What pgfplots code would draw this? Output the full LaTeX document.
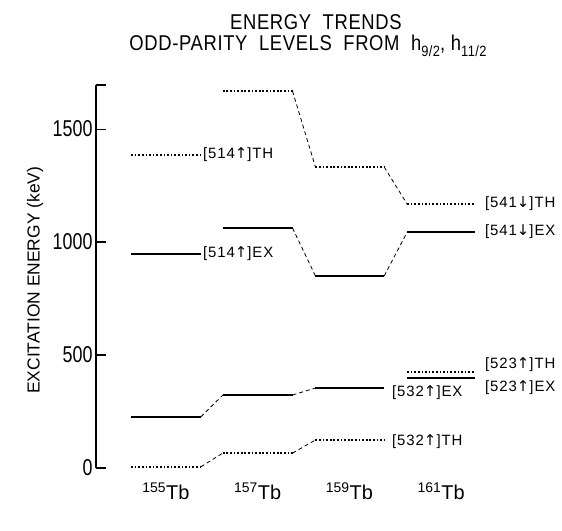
\documentclass[border=0pt]{standalone}
\usepackage{fontspec}
\setmainfont{Liberation Sans}
\newfontfamily\narrow{Liberation Sans}[FakeStretch=0.78]
\newfontfamily\ttl{Liberation Sans}[FakeStretch=0.86, LetterSpace=3]
\newfontfamily\lbl{Liberation Sans}[LetterSpace=6]
\newfontfamily\dv{DejaVu Sans}
\usepackage{pgfplots}
\pgfplotsset{compat=1.18}
\newcommand{\up}{{\dv\char"2191}}
\newcommand{\dn}{{\dv\char"2193}}
\begin{document}
\begin{tikzpicture}
\path[use as bounding box] (0,0) rectangle (562bp,531bp);
\begin{axis}[
  at={(96bp,63bp)}, anchor=south west,
  scale only axis, width=464bp, height=383bp,
  xmin=0.237, xmax=5.297, ymin=0, ymax=1695,
  clip=false,
  axis y line*=left, axis x line*=bottom,
  x axis line style={draw=none},
  y axis line style={line width=1.1bp},
  xtick={1,2,3,4},
  xticklabels={{\textsuperscript{155}Tb},{\textsuperscript{157}Tb},{\textsuperscript{159}Tb},{\textsuperscript{161}Tb}},
  x tick style={draw=none},
  xticklabel style={font=\fontsize{20}{23}\selectfont, yshift=-11bp},
  ytick={0,500,1000,1500},
  extra y ticks={1695}, extra y tick labels={},
  extra y tick style={tick align=inside, major tick length=10bp},
  tick align=inside, major tick length=10bp,
  y tick style={line width=1.1bp, black},
  yticklabel style={font=\narrow\fontsize{23}{26}\selectfont},
  /pgf/number format/assume math mode=true,
  /pgf/number format/1000 sep={},
  ylabel={EXCITATION ENERGY (keV)},
  ylabel style={at={(axis description cs:-0.131,0.49)}, anchor=center, font=\fontsize{17.5}{20}\selectfont},
  unbounded coords=jump,
]
% solid EX levels
\addplot[black, line width=1.3bp] coordinates {
 (0.62,947)(1.38,947) (nan,nan)
 (1.62,1062)(2.38,1062) (nan,nan)
 (2.63,850)(3.38,850) (nan,nan)
 (3.63,1044)(4.37,1044) (nan,nan)
 (0.62,226)(1.38,226) (nan,nan)
 (1.62,323)(2.38,323) (nan,nan)
 (2.63,354)(3.38,354) (nan,nan)
 (3.63,398)(4.37,398)
};
% dotted TH levels
\addplot[black, line width=2.0bp, dash pattern=on 1.7bp off 1.9bp] coordinates {
 (0.62,1385)(1.38,1385) (nan,nan)
 (1.62,1668)(2.38,1668) (nan,nan)
 (2.63,1332)(3.38,1332) (nan,nan)
 (3.63,1168)(4.37,1168) (nan,nan)
 (0.62,5)(1.38,5) (nan,nan)
 (1.62,66)(2.38,66) (nan,nan)
 (2.63,124)(3.38,124) (nan,nan)
 (3.63,425)(4.37,425)
};
% dashed connectors
\addplot[black, line width=0.8bp, dash pattern=on 4bp off 3bp] coordinates {
 (2.38,1668)(2.63,1332) (nan,nan)
 (3.38,1332)(3.63,1168) (nan,nan)
 (2.38,1062)(2.63,850) (nan,nan)
 (3.38,850)(3.63,1044) (nan,nan)
 (1.38,226)(1.62,323) (nan,nan)
 (2.38,323)(2.63,354) (nan,nan)
 (1.38,5)(1.62,66) (nan,nan)
 (2.38,66)(2.63,124)
};
\begin{scope}[every node/.style={anchor=west, inner sep=0pt, font=\lbl\fontsize{15}{18}\selectfont}]
\node at (axis cs:1.403,1385) {[514\up]TH};
\node at (axis cs:1.403,947) {[514\up]EX};
\node at (axis cs:4.479,1168) {[541\dn]TH};
\node at (axis cs:4.479,1044) {[541\dn]EX};
\node at (axis cs:4.479,456) {[523\up]TH};
\node at (axis cs:4.479,354) {[523\up]EX};
\node at (axis cs:3.465,332) {[532\up]EX};
\node at (axis cs:3.465,119) {[532\up]TH};
\end{scope}
\node[anchor=base, font=\ttl\fontsize{21.5}{24}\selectfont] at (axis description cs:0.474,1.1436) {ENERGY\ \ TRENDS};
\node[anchor=base, font=\ttl\fontsize{21.5}{24}\selectfont] at (axis description cs:0.457,1.091) {ODD-PARITY\ \ LEVELS\ \ FROM\ \ h\raisebox{-0.3em}{\fontsize{15}{17}\selectfont 9/2}, h\raisebox{-0.3em}{\fontsize{15}{17}\selectfont 11/2}};
\end{axis}
\end{tikzpicture}
\end{document}
